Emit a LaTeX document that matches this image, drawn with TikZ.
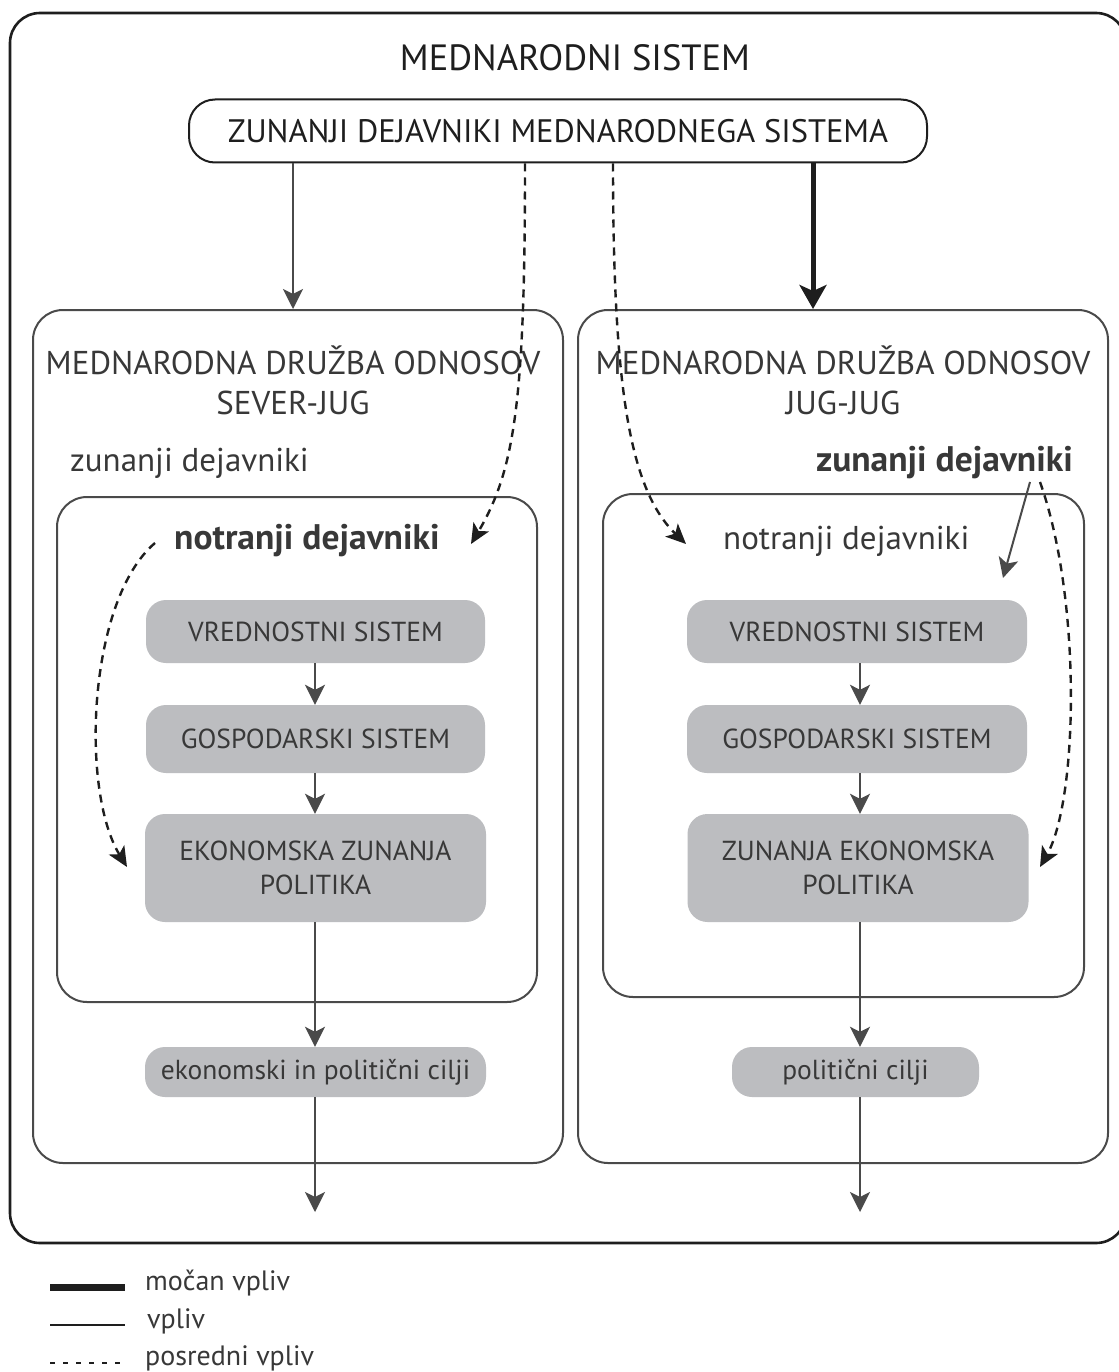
\documentclass[tikz,border=0pt]{standalone}
\usepackage{fontspec}
\setmainfont{PT Sans}
\usetikzlibrary{arrows.meta}
\definecolor{txt}{HTML}{383838}
\definecolor{dark}{HTML}{1E1E1E}
\definecolor{boxfill}{HTML}{BCBDC0}
\definecolor{edge}{HTML}{4A4A4A}
\begin{document}
\begin{tikzpicture}[x=1pt,y=-1pt,
  outerbox/.style={draw=dark, line width=2.6pt, rounded corners=30pt},
  relbox/.style={draw=edge, line width=2pt, rounded corners=30pt, inner sep=0pt},
  innerbox/.style={draw=edge, line width=2pt, rounded corners=30pt, inner sep=0pt},
  topbox/.style={draw=dark, line width=2pt, rounded corners=26pt, inner sep=0pt,
     minimum width=738pt, minimum height=63pt, text=dark,
     font=\fontsize{32.5}{38}\selectfont},
  graybox/.style={fill=boxfill, rounded corners=20pt, inner sep=0pt, text=txt,
     align=center, font=\fontsize{27.5}{34}\selectfont},
  lbl/.style={text=txt, inner sep=0pt, font=\fontsize{33}{38}\selectfont},
  blbl/.style={text=txt, inner sep=0pt, font=\bfseries\fontsize{35.5}{40}\selectfont},
  leg/.style={text=txt, inner sep=0pt, anchor=west, font=\fontsize{28}{32}\selectfont},
  arr/.style={draw=edge, line width=2pt, -{Stealth[length=20pt,width=20pt,inset=5pt]}},
  thickarr/.style={draw=dark, line width=5pt, -{Stealth[length=24pt,width=27pt,inset=6pt]}},
  dasharr/.style={draw=dark, line width=2.4pt, dash pattern=on 8pt off 6pt,
     -{Stealth[length=20pt,width=18pt,inset=5pt]}},
]
\useasboundingbox (0,0) rectangle (1118,1372);
\fill[white] (0,0) rectangle (1118,1372);

% outer system frame
\draw[outerbox] (10,13) rectangle (1126,1243);
\node[text=dark, inner sep=0pt, font=\fontsize{36.5}{42}\selectfont] (title) at (575,58) {MEDNARODNI SISTEM};

% top box
\node[topbox] (zun) at (558,131) {ZUNANJI DEJAVNIKI MEDNARODNEGA SISTEMA};

% relation boxes
\node[relbox, minimum width=530pt, minimum height=853pt] (sj) at (298,736.5) {};
\node[relbox, minimum width=530pt, minimum height=853pt] (jj) at (843,736.5) {};
\node[lbl, align=center, font=\fontsize{33}{40}\selectfont] (sjt) at (293,380) {MEDNARODNA DRUŽBA ODNOSOV\\SEVER-JUG};
\node[lbl, align=center, font=\fontsize{33}{40}\selectfont] (jjt) at (843,380) {MEDNARODNA DRUŽBA ODNOSOV\\JUG-JUG};

% inner boxes
\node[innerbox, minimum width=480pt, minimum height=505pt] (inL) at (297,749.5) {};
\node[innerbox, minimum width=481pt, minimum height=503pt] (inR) at (843.5,745.5) {};

% labels
\node[lbl, anchor=west] (zdL) at (70,463) {zunanji dejavniki};
\node[blbl, anchor=west] (ndL) at (174,541) {notranji dejavniki};
\node[blbl, anchor=east] (zdR) at (1073,463) {zunanji dejavniki};
\node[lbl, anchor=west] (ndR) at (723,541) {notranji dejavniki};

% gray boxes left
\node[graybox, minimum width=339pt, minimum height=63pt] (vsL) at (315.5,631.5) {VREDNOSTNI SISTEM};
\node[graybox, minimum width=339pt, minimum height=68pt] (gsL) at (315.5,739) {GOSPODARSKI SISTEM};
\node[graybox, minimum width=341pt, minimum height=108pt] (epL) at (315.5,868) {EKONOMSKA ZUNANJA\\POLITIKA};
\node[graybox, minimum width=341pt, minimum height=50pt] (ciL) at (315.5,1072) {ekonomski in politični cilji};

% gray boxes right
\node[graybox, minimum width=340pt, minimum height=63pt] (vsR) at (857,631.5) {VREDNOSTNI SISTEM};
\node[graybox, minimum width=340pt, minimum height=68pt] (gsR) at (857,739) {GOSPODARSKI SISTEM};
\node[graybox, minimum width=341pt, minimum height=108pt] (epR) at (858,868) {ZUNANJA EKONOMSKA\\POLITIKA};
\node[graybox, minimum width=247pt, minimum height=50pt] (ciR) at (855.5,1072) {politični cilji};

% coordinates
\coordinate (xa) at (293,0);
\coordinate (xb) at (813,0);
\coordinate (xd1) at (525,0);
\coordinate (xd2) at (613,0);
\coordinate (xl) at (315,0);
\coordinate (xr) at (860,0);
\coordinate (outL) at (315,1212);
\coordinate (outR) at (860,1212);
\coordinate (t1) at (471,544);
\coordinate (t2) at (686,544);
\coordinate (s3) at (155,543);
\coordinate (t3) at (127,867);
\coordinate (s4) at (1040,482);
\coordinate (t4) at (1040,867);
\coordinate (s5) at (1030,482);
\coordinate (t5) at (1003,578);

% top connectors
\draw[arr] (zun.south -| xa) -- (sj.north -| xa);
\draw[thickarr] (zun.south -| xb) -- (jj.north -| xb);
\draw[dasharr] (zun.south -| xd1) .. controls (525,400) and (515,470) .. (t1);
\draw[dasharr] (zun.south -| xd2) .. controls (613,390) and (630,490) .. (t2);

% inner indirect effects
\draw[dasharr] (s3) .. controls (88,600) and (80,790) .. (t3);
\draw[dasharr] (s4) .. controls (1082,600) and (1078,800) .. (t4);
\draw[arr] (s5) -- (t5);

% chains
\draw[arr] (vsL.south -| xl) -- (gsL.north -| xl);
\draw[arr] (gsL.south -| xl) -- (epL.north -| xl);
\draw[arr] (epL.south -| xl) -- (ciL.north -| xl);
\draw[arr] (ciL.south -| xl) -- (outL);
\draw[arr] (vsR.south -| xr) -- (gsR.north -| xr);
\draw[arr] (gsR.south -| xr) -- (epR.north -| xr);
\draw[arr] (epR.south -| xr) -- (ciR.north -| xr);
\draw[arr] (ciR.south -| xr) -- (outR);

% legend
\coordinate (l1a) at (50,1287); \coordinate (l1b) at (125,1287);
\coordinate (l2a) at (50,1325); \coordinate (l2b) at (125,1325);
\coordinate (l3a) at (50,1363); \coordinate (l3b) at (125,1363);
\draw[draw=dark, line width=7pt] (l1a) -- (l1b);
\draw[draw=dark, line width=2pt] (l2a) -- (l2b);
\draw[draw=dark, line width=2pt, dash pattern=on 5pt off 8pt] (l3a) -- (l3b);
\node[leg] (lg1) at (145,1283) {močan vpliv};
\node[leg] (lg2) at (147,1321) {vpliv};
\node[leg] (lg3) at (145,1358) {posredni vpliv};
\end{tikzpicture}
\end{document}
